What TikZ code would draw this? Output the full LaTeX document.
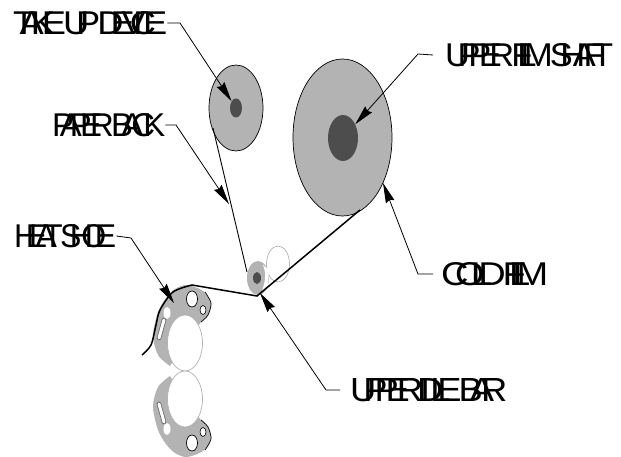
\documentclass[tikz,border=0pt]{standalone}
\usepackage{fontspec}
\usepackage{graphicx}
\usetikzlibrary{arrows.meta,shapes.geometric}
\newfontfamily\lblfont[LetterSpace=-36]{Liberation Sans}
\definecolor{discgray}{HTML}{B3B3B3}
\definecolor{coregray}{HTML}{4D4D4D}
\newcommand{\lbltext}[2]{\resizebox{#1pt}{23pt}{\lblfont #2}}
\tikzset{
  lbl/.style={inner sep=0pt,anchor=west},
  disc/.style={ellipse,draw=black,line width=.7pt,fill=discgray,inner sep=0pt},
  core/.style={ellipse,fill=coregray,inner sep=0pt},
  ghost/.style={ellipse,draw=black!30,fill=white,line width=.7pt,inner sep=0pt},
  leader/.style={draw=black,line width=.8pt,-{Stealth[length=20pt,width=9pt,inset=2pt]}},
  film/.style={draw=black,line width=1.5pt},
  paper/.style={draw=black,line width=.9pt}
}
\begin{document}
\begin{tikzpicture}[x=1pt,y=-1pt]
  \useasboundingbox (0,0) rectangle (621,457);
  % rollers
  \node[disc,minimum width=54pt,minimum height=86pt] (takeupdisc) at (236,108) {};
  \node[core,minimum width=12pt,minimum height=19pt] (takeupcore) at (236,108) {};
  \node[disc,minimum width=99pt,minimum height=157pt] (shaftdisc) at (342.5,137.5) {};
  \node[core,minimum width=30pt,minimum height=46pt] (shaftcore) at (343,138) {};
  \node[ghost,minimum width=23pt,minimum height=36pt] (idleghost) at (278,264) {};
  \node[disc,draw=none,minimum width=22pt,minimum height=34pt] (idledisc) at (258,278) {};
  \fill[white] (263,265) -- (269,270) -- (268,285) -- (262,291) .. controls (266,280) and (266,272) .. (263,265);
  \node[core,minimum width=8pt,minimum height=12pt] (idlecore) at (257,278) {};
  % heat shoes
  \foreach \s/\o in {1/0,-1/742}{
    \begin{scope}[shift={(0,\o)},yscale=\s]
      \fill[discgray] plot[smooth] coordinates {(170,366) (158,355) (153,335) (158,312) (166,298) (175,289) (187,285) (203,291) (211,303) (208,315) (201,322)} -- (185,343) -- cycle;
      \draw[line width=.7pt] plot[smooth] coordinates {(205,292) (211,303) (208,315) (201,322)};
      \node[ellipse,draw=black!30,fill=white,line width=.7pt,inner sep=0pt,minimum width=35pt,minimum height=56pt] at (185,343) {};
      \node[ellipse,draw=black,fill=white,line width=.7pt,inner sep=0pt,minimum width=11pt,minimum height=16pt] at (192,299) {};
      \node[ellipse,draw=black,fill=white,line width=.6pt,inner sep=0pt,minimum width=6pt,minimum height=9pt] at (203,310) {};
      \draw[black!60,line width=4.5pt,line cap=round] (164,320) -- (159,338);
      \draw[white,line width=3pt,line cap=round] (164,320) -- (159,338);
      \fill[white] (167,313) ellipse (3.5pt and 6pt);
    \end{scope}
  }
  % film and paper
  \coordinate (filmstart) at (142,355);
  \coordinate (filmbend) at (257,296);
  \coordinate (filmend) at (360,210);
  \draw[film] plot[smooth] coordinates {(142,355) (151,345) (156,325) (160,310) (173,292) (192,285)} -- (filmbend) -- (filmend);
  \coordinate (paperstart) at (213,128);
  \coordinate (paperbend) at (247,272);
  \draw[paper] (paperstart) -- (paperbend);
  % labels
  \node[lbl] (takeup) at (13,23) {\lbltext{154}{TAKE UP DEVICE}};
  \node[lbl] (paperback) at (52,125) {\lbltext{113}{PAPER BACK}};
  \node[lbl] (heatshoe) at (14,236) {\lbltext{102}{HEAT SHOE}};
  \node[lbl] (uppershaft) at (445,55) {\lbltext{168}{UPPER FILM SHAFT}};
  \node[lbl] (coldfilm) at (441,274) {\lbltext{107}{COLD FILM}};
  \node[lbl] (idlebar) at (350,390) {\lbltext{157}{UPPER IDLE BAR}};
  % leaders
  \coordinate (takeupknee) at (180,23);
  \coordinate (paperknee) at (176,125);
  \coordinate (papertip) at (229,204);
  \coordinate (shoeknee) at (131,238);
  \coordinate (shoetip) at (174,303);
  \coordinate (shaftknee) at (418,54);
  \coordinate (coldknee) at (418,274);
  \coordinate (coldtip) at (383,183);
  \coordinate (idleknee) at (326,390);
  \coordinate (idletip) at (260,293);
  \draw[leader] (takeup.east) -- (takeupknee) -- (takeupcore);
  \draw[leader] (paperback.east) -- (paperknee) -- (papertip);
  \draw[leader] (heatshoe.east) -- (shoeknee) -- (shoetip);
  \draw[leader] ([xshift=-12pt]uppershaft.west) -- (shaftknee) -- (shaftcore);
  \draw[leader] ([xshift=-8pt]coldfilm.west) -- (coldknee) -- (coldtip);
  \draw[leader] ([xshift=-10pt]idlebar.west) -- (idleknee) -- (idletip);
\end{tikzpicture}
\end{document}
